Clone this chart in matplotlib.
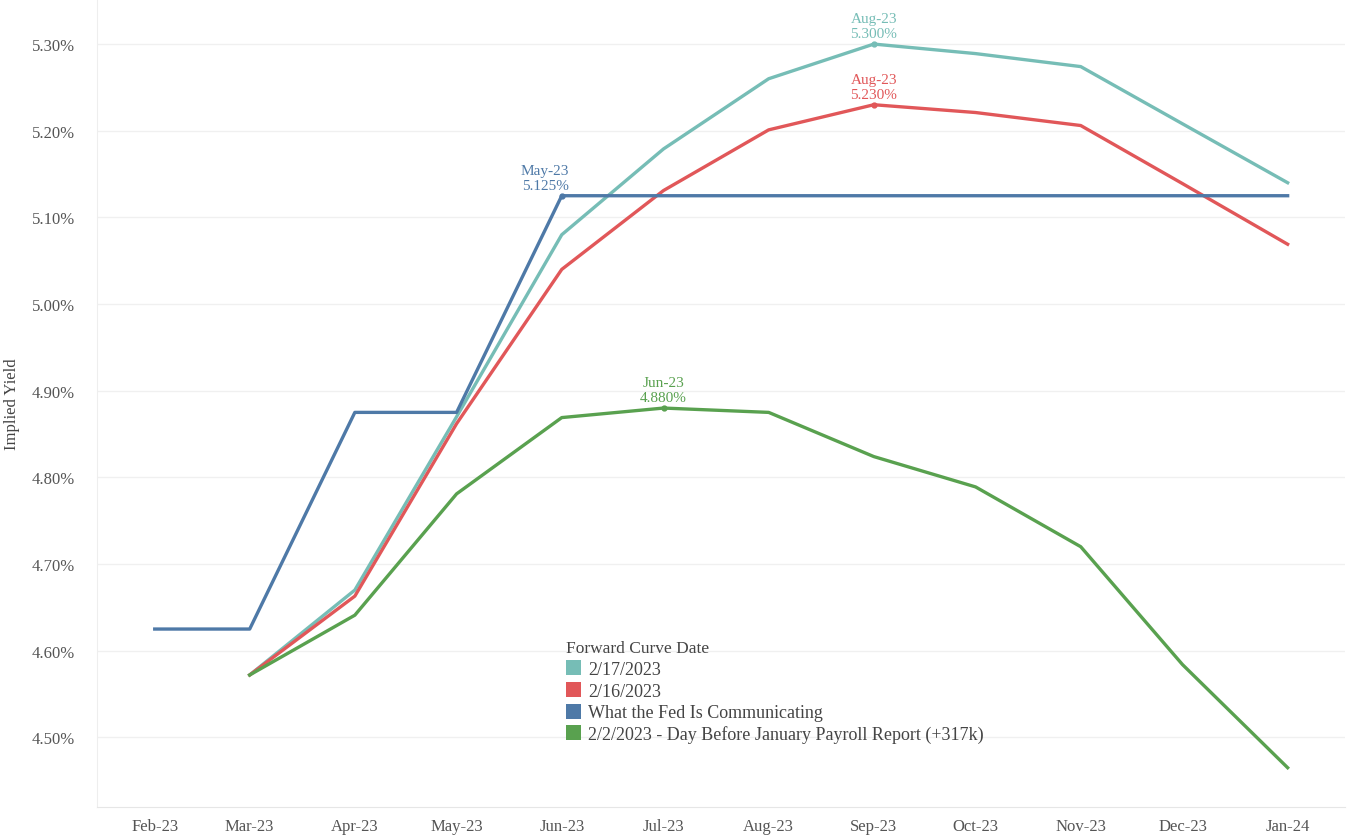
import matplotlib
matplotlib.use("Agg")
import matplotlib.pyplot as plt
import matplotlib.ticker as mticker
from matplotlib.patches import Patch
import pandas as pd

months = ["2023-02-01", "2023-03-01", "2023-04-01", "2023-05-01", "2023-06-01", "2023-07-01",
          "2023-08-01", "2023-09-01", "2023-10-01", "2023-11-01", "2023-12-01", "2024-01-01"]
tick_labels = ["Feb-23", "Mar-23", "Apr-23", "May-23", "Jun-23", "Jul-23",
               "Aug-23", "Sep-23", "Oct-23", "Nov-23", "Dec-23", "Jan-24"]

# values in percent, starting at Mar-23 for forward curves
curve_0217 = [4.572, 4.670, 4.870, 5.080, 5.179, 5.260, 5.300, 5.289, 5.274, 5.208, 5.140]
curve_0216 = [4.572, 4.663, 4.862, 5.040, 5.131, 5.201, 5.230, 5.221, 5.206, 5.139, 5.069]
curve_0202 = [4.572, 4.641, 4.781, 4.869, 4.880, 4.875, 4.824, 4.789, 4.720, 4.584, 4.465]
fed_path = [4.625, 4.625, 4.875, 4.875, 5.125, 5.125, 5.125, 5.125, 5.125, 5.125, 5.125, 5.125]

series_names = ["2/17/2023", "2/16/2023", "What the Fed Is Communicating",
                "2/2/2023 - Day Before January Payroll Report (+317k)"]
colors = ["#76BDB6", "#E15759", "#4E79A7", "#59A14F"]

plt.rcParams['font.family'] = ['Liberation Serif', 'DejaVu Serif']

dates = pd.to_datetime(months)
fig = plt.figure(figsize=(13.48, 8.37), dpi=100)
ax = fig.add_axes([0.072, 0.035, 0.926, 0.965])

ax.plot(dates[1:], curve_0217, color=colors[0], lw=2.4, zorder=3)
ax.plot(dates[1:], curve_0216, color=colors[1], lw=2.4, zorder=3)
ax.plot(dates, fed_path, color=colors[2], lw=2.4, zorder=4)
ax.plot(dates[1:], curve_0202, color=colors[3], lw=2.4, zorder=3)

# annotations
ann = [
    (dates[7], curve_0217[6], "Aug-23\n5.300%", colors[0], 0),
    (dates[7], curve_0216[6], "Aug-23\n5.230%", colors[1], 0),
    (dates[4], fed_path[4], "May-23\n5.125%", colors[2], -12),
    (dates[5], curve_0202[4], "Jun-23\n4.880%", colors[3], 0),
]
for xd, yv, txt, c, dx in ann:
    ax.plot([xd], [yv], 'o', ms=3.5, color=c, zorder=5)
    ax.annotate(txt, (xd, yv), xytext=(dx, 3), textcoords='offset points',
                ha='center', va='bottom', color=c, fontsize=11, linespacing=1.15)

ax.set_xlim(pd.Timestamp("2023-01-15"), pd.Timestamp("2024-01-18"))
ax.set_ylim(4.42, 5.352)
ax.set_xticks(dates)
ax.set_xticklabels(tick_labels)
ax.set_yticks([4.5, 4.6, 4.7, 4.8, 4.9, 5.0, 5.1, 5.2, 5.3])
ax.yaxis.set_major_formatter(mticker.FuncFormatter(lambda v, p: f"{v:.2f}%"))
ax.tick_params(axis='both', length=0, labelsize=12, colors='#555555', pad=8)
ax.tick_params(axis='y', pad=16)
ax.grid(axis='y', color='#f0f0f0', lw=1)
ax.set_axisbelow(True)
for s in ['top', 'right']:
    ax.spines[s].set_visible(False)
ax.spines['left'].set_color('#eeeeee')
ax.spines['bottom'].set_color('#e6e6e6')
ax.set_ylabel("Implied Yield", fontsize=12, color='#444444')
ax.yaxis.set_label_coords(-0.062, 0.5)

handles = [Patch(facecolor=c, edgecolor='none') for c in colors]
leg = ax.legend(handles, series_names, title="Forward Curve Date", loc='upper left',
                bbox_to_anchor=(0.37, 0.215), frameon=False, fontsize=13,
                title_fontsize=12.5, handlelength=0.8, handleheight=0.9,
                handletextpad=0.4, labelspacing=0.22, borderaxespad=0)
leg._legend_box.align = "left"
for t in leg.get_texts():
    t.set_color('#444444')
leg.get_title().set_color('#444444')

fig.savefig("out.png", dpi=100, facecolor='white')
